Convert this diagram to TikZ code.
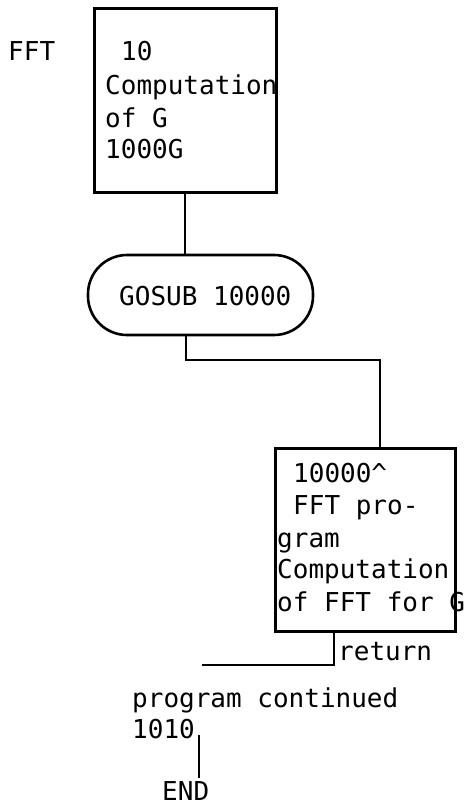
\documentclass[tikz,border=0pt]{standalone}
\usepackage{fontspec}
\newfontfamily\tw{DejaVu Sans Mono}
\begin{document}
\begin{tikzpicture}[x=1pt,y=-1pt,
  boxst/.style={draw, line width=3pt, inner sep=0pt},
  pillst/.style={draw, line width=2.6pt, rounded corners=39pt, inner sep=0pt},
  txt/.style={anchor=base west, inner sep=0pt, font=\tw\fontsize{26}{32}\selectfont},
  conn/.style={line width=2.4pt}]
\useasboundingbox (0,0) rectangle (468,806);
% boxes
\node[boxst, minimum width=182pt, minimum height=184pt] (box1) at (185,100) {};
\node[pillst, minimum width=225pt, minimum height=80pt] (pill) at (200.5,295) {};
\node[boxst, minimum width=180pt, minimum height=183pt] (box2) at (365,539.5) {};
% texts
\node[txt] (fft) at (8,60) {FFT};
\node[txt] (b1a) at (121,60) {10};
\node[txt] (b1b) at (105,94) {Computation};
\node[txt] (b1c) at (105,127) {of G};
\node[txt] (b1d) at (105,158) {1000G};
\node[txt] (gosub) at (119,305) {GOSUB 10000};
\node[txt] (b2a) at (293,482) {10000\^{}};
\node[txt] (b2b) at (293,514) {FFT pro-};
\node[txt] (b2c) at (277,547) {gram};
\node[txt] (b2d) at (277,578) {Computation};
\node[txt] (b2e) at (277,611) {of FFT for G};
\node[txt] (ret) at (338,660) {return};
\node[txt] (cont) at (132,707) {program continued};
\node[txt] (l1010) at (132,738) {1010};
\node[txt] (endt) at (162,800) {END};
% junction coordinates
\coordinate (j1) at (186,360);
\coordinate (j2) at (380,360);
\coordinate (j3) at (334,665);
\coordinate (j4) at (202,665);
\coordinate (j5) at (199,735);
\coordinate (j6) at (199,778);
% connectors
\draw[conn] (box1.south) -- (box1.south |- pill.north);
\draw[conn] (j1 |- pill.south) -- (j1) -- (j2) -- (j2 |- box2.north);
\draw[conn] (j3 |- box2.south) -- (j3) -- (j4);
\draw[conn] (j5) -- (j6);
\end{tikzpicture}
\end{document}
